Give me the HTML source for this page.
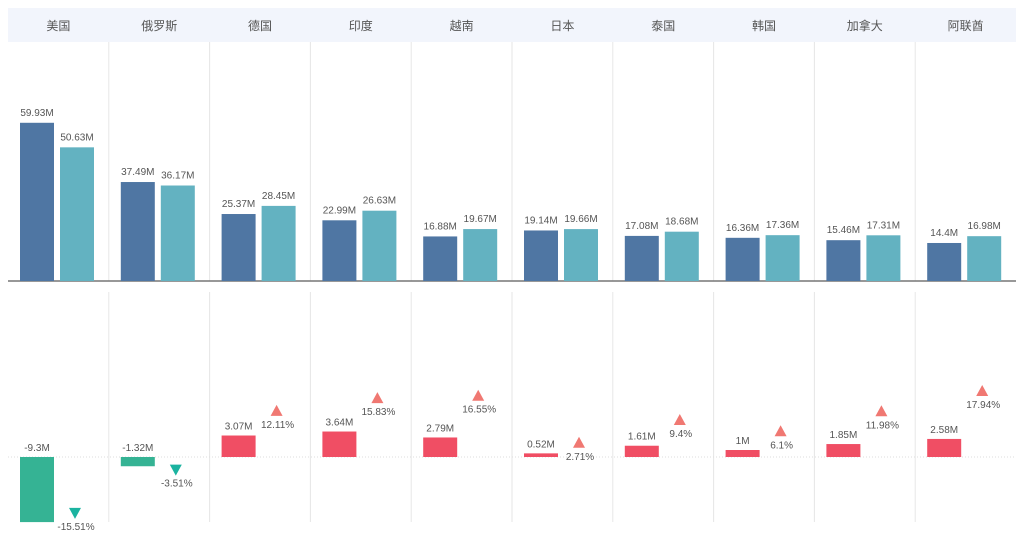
<!DOCTYPE html>
<html><head><meta charset="utf-8"><style>
body{margin:0;background:#fff;font-family:"Liberation Sans","Noto Sans CJK SC",sans-serif}
svg text{font-family:"Liberation Sans","Noto Sans CJK SC",sans-serif}
</style></head><body>
<svg id="c" width="1020" height="539"></svg>
<script>
const categories=["美国","俄罗斯","德国","印度","越南","日本","泰国","韩国","加拿大","阿联酋"];
const seriesA=[59.93,37.49,25.37,22.99,16.88,19.14,17.08,16.36,15.46,14.4];
const seriesB=[50.63,36.17,28.45,26.63,19.67,19.66,18.68,17.36,17.31,16.98];
const diffs=[-9.3,-1.32,3.07,3.64,2.79,0.52,1.61,1,1.85,2.58];
const pcts=[-15.51,-3.51,12.11,15.83,16.55,2.71,9.4,6.1,11.98,17.94];
const NS="http://www.w3.org/2000/svg";
const svg=document.getElementById('c');
function mk(t,a,p){const e=document.createElementNS(NS,t);for(const k in a)e.setAttribute(k,a[k]);(p||svg).appendChild(e);return e;}
const x0=8,cw=100.8,topBase=281,botBase=457;
const yTop=v=>topBase-v*2.64;
const yBot=v=>botBase-v*7;
const yPct=v=>v>=0?452-v*3.4:457-v*3.6;
const hdr=mk('rect',{x:8,y:8,width:1008,height:34,fill:'#f2f5fc'});


for(let i=1;i<10;i++){
 const l=mk('line',{x1:x0+i*cw,x2:x0+i*cw,y1:42,y2:281,stroke:'#e6e6e6','stroke-width':1});
 
 
 const l2=mk('line',{x1:x0+i*cw,x2:x0+i*cw,y1:292,y2:522,stroke:'#e6e6e6','stroke-width':1});
 
 
}
const bl=mk('line',{x1:8,x2:1016,y1:topBase,y2:topBase,stroke:'#777','stroke-width':1.5});


const zl=mk('line',{x1:8,x2:1016,y1:botBase,y2:botBase,stroke:'#ddd','stroke-width':1,'stroke-dasharray':'1,2'});


const fmt=v=>v+'M';
categories.forEach((c,i)=>{
 const cx=x0+i*cw;
 const t=mk('text',{x:cx+cw/2,y:30,'font-size':12,fill:'#555','text-anchor':'middle'});t.textContent=c;
 
 
 [[seriesA[i],12,'#4f76a3'],[seriesB[i],52,'#63b2c1']].forEach(([v,o,col],k)=>{
  const y=yTop(v);
  const r=mk('rect',{x:cx+o,y:y,width:34,height:topBase-y,fill:col});
  
  
  const tl=mk('text',{x:cx+o+17,y:y-7,'font-size':10,fill:'#555','text-anchor':'middle'});tl.textContent=fmt(v);
  
  
 });
 const d=diffs[i],yb=yBot(d);
 const dr=mk('rect',{x:cx+12,y:Math.min(yb,botBase),width:34,height:Math.abs(botBase-yb),fill:d<0?'#35b394':'#f04e64'});
 
 
 const dl=mk('text',{x:cx+29,y:(d<0?botBase:yb)-6,'font-size':10,fill:'#555','text-anchor':'middle'});dl.textContent=fmt(d);
 
 
 const p=pcts[i],ty=yPct(p),tx=cx+67;
 const tri=mk('polygon',{points:p>=0?`${tx-6},${ty+5} ${tx+6},${ty+5} ${tx},${ty-6}`:`${tx-6},${ty-5} ${tx+6},${ty-5} ${tx},${ty+6}`,fill:p>=0?'#f07872':'#1bb3a0'});
 
 
 const pl=mk('text',{x:tx+1,y:ty+17,'font-size':10,fill:'#555','text-anchor':'middle'});pl.textContent=p+'%';
 
 
});
</script>
</body></html>
